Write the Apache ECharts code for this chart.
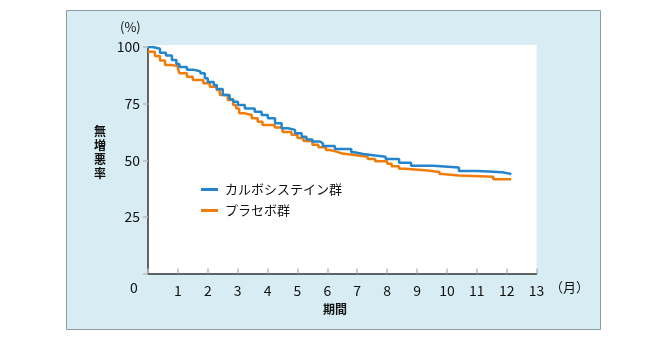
<!DOCTYPE html>
<html><head><meta charset="utf-8">
<script src="https://cdn.jsdelivr.net/npm/echarts@6/dist/echarts.min.js"></script>
<style>html,body{margin:0;padding:0;background:#fff}#c{width:670px;height:340px}</style>
</head><body><div id="c"></div>
<script>
var seriesNames = ['カルボシステイン群', 'プラセボ群'];
var blueMonths = [0,0.15,0.4,0.6,0.8,0.95,1.05,1.3,1.5,1.75,1.9,2.0,2.2,2.3,2.5,2.73,2.85,3.01,3.24,3.57,3.8,4.01,4.25,4.47,4.68,4.92,5.14,5.3,5.5,5.75,5.85,6.25,6.8,6.9,7.2,7.6,7.95,8.4,8.8,9.55,10.4,11.05,11.85,12.1,12.15];
var blueValues = [100,99.2,97.5,96.2,94.3,92.5,91.2,90,89.3,88.4,86.2,84.5,83.2,81.5,78.8,76.9,75.8,74.4,72.9,71.4,70,68.5,66.3,64.1,63.4,61.9,60.4,59.2,58.3,57.5,56.3,55,53.5,52.8,52.1,51.5,50.5,48.9,47.6,46.8,45.3,44.7,44.1,43.7,43.7];
var orangeMonths = [0,0.23,0.4,0.57,0.8,1.0,1.05,1.3,1.5,1.85,2.07,2.3,2.4,2.67,2.85,2.95,3.05,3.24,3.47,3.67,3.83,4.24,4.5,4.8,5.0,5.2,5.5,5.7,5.95,6.1,6.3,6.5,6.9,7.35,7.6,8.0,8.15,8.4,8.6,9.35,9.75,9.85,10.4,11.55,12.15];
var orangeValues = [97.9,96,94,92,91.6,90.6,88.4,86.9,85.4,84,82.5,81,78.8,76.6,74.4,72.9,70.7,70,68.5,67,65.6,64.5,62.5,61.3,59.8,58.5,56.8,55.7,54.5,53.8,53,52.3,51.5,50.6,49.6,48.4,47.3,46.2,45.5,44.8,43.9,43.3,42.7,41.6,41.6];
var xTicks = [1,2,3,4,5,6,7,8,9,10,11,12,13];
var yTicks = [25,50,75,100];

function pairs(xs, ys){ return xs.map(function(x,i){ return [x, ys[i]]; }); }
var FONT = '"Noto Sans CJK JP", "Noto Sans", sans-serif';
var chart = echarts.init(document.getElementById('c'), null, {renderer:'canvas'});
chart.setOption({
  animation:false,
  backgroundColor:'#ffffff',
  textStyle:{fontFamily:FONT},
  grid:{left:148, top:47, right:133.4, bottom:66.5, show:false},
  graphic:[
    {type:'rect', z:-10, shape:{x:66.5, y:10.5, width:534, height:319}, style:{fill:'#d7edf3', stroke:'#8c9aa0', lineWidth:1}},
    {type:'rect', z:-9, shape:{x:148, y:45, width:388.6, height:228.5}, style:{fill:'#ffffff'}},
    {type:'text', left:120, top:21, style:{text:'(%)', fontSize:13, fontFamily:FONT, fill:'#111'}},
    {type:'text', left:130, top:281, style:{text:'0', fontSize:14, fontFamily:FONT, fill:'#111'}},
    {type:'text', left:550, top:281, style:{text:'（月）', fontSize:13, fontFamily:FONT, fill:'#111'}},
    {type:'text', left:323, top:303, style:{text:'期間', fontSize:12, fontWeight:'bold', fontFamily:FONT, fill:'#111'}},
    {type:'text', left:94, top:124, style:{text:'無\n増\n悪\n率', fontSize:12, lineHeight:14, fontWeight:'bold', fontFamily:FONT, fill:'#111'}}
  ],
  legend:{
    orient:'vertical', left:196, top:178, itemGap:8, itemWidth:17, itemHeight:3, icon:'rect',
    textStyle:{fontSize:13, color:'#111', fontFamily:FONT, padding:[0,0,0,2]},
    data:seriesNames
  },
  xAxis:{
    type:'value', min:0, max:13, interval:1,
    axisLine:{show:true, lineStyle:{color:'#333', width:1.5}},
    axisTick:{show:true, inside:true, length:5, lineStyle:{color:'#bbbbbb', width:1.5}},
    splitLine:{show:false},
    axisLabel:{margin:10, fontSize:14, color:'#111', fontFamily:FONT,
      formatter:function(v){ return xTicks.indexOf(v) >= 0 ? String(v) : ''; }}
  },
  yAxis:{
    type:'value', min:0, max:100, interval:25,
    axisLine:{show:true, lineStyle:{color:'#333', width:1.5}},
    axisTick:{show:true, inside:false, length:5, lineStyle:{color:'#bbbbbb', width:1.5}},
    splitLine:{show:false},
    axisLabel:{margin:8, fontSize:14, color:'#111', fontFamily:FONT,
      formatter:function(v){ return yTicks.indexOf(v) >= 0 ? String(v) : ''; }}
  },
  series:[
    {name:seriesNames[0], type:'line', step:'end', showSymbol:false, data:pairs(blueMonths, blueValues),
      lineStyle:{color:'#2484cc', width:2.5}, itemStyle:{color:'#2484cc'}, z:3},
    {name:seriesNames[1], type:'line', step:'end', showSymbol:false, data:pairs(orangeMonths, orangeValues),
      lineStyle:{color:'#f27c0a', width:2.5}, itemStyle:{color:'#f27c0a'}, z:2}
  ]
});
</script></body></html>
